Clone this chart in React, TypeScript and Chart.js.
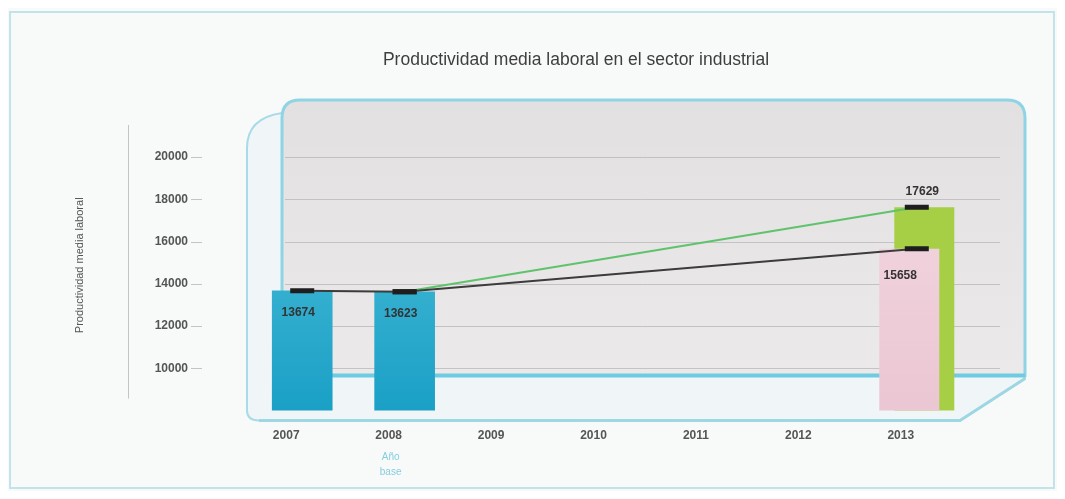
import React, { useEffect, useRef } from "react";
import { Chart, registerables } from "chart.js";

Chart.register(...registerables);

const years = ["2007", "2008", "2009", "2010", "2011", "2012", "2013"];
const baseBars = [13674, 13623, null, null, null, null, null];
const pinkBars = [null, null, null, null, null, null, 15658];
const greenBars = [null, null, null, null, null, null, 17629];
const blackLine = [13674, 13623, null, null, null, null, 15658];
const greenLine = [null, 13623, null, null, null, null, 17629];
const yTickValues = [10000, 12000, 14000, 16000, 18000, 20000];
const titleText = "Productividad media laboral en el sector industrial";
const yTitle = "Productividad media laboral";
const baseYearNote = ["Año", "base"];
const baseYearIndex = 1;

const FONT = "'Liberation Sans', Arial, sans-serif";

function vGrad(chart: any, top: string, bottom: string, fallback: string) {
  const ca = chart.chartArea;
  if (!ca) return fallback;
  const g = chart.ctx.createLinearGradient(0, ca.top, 0, ca.bottom);
  g.addColorStop(0, top);
  g.addColorStop(1, bottom);
  return g;
}

const decorPlugin = {
  id: "decor",
  beforeDraw(chart: any) {
    const { ctx, chartArea: ca, width, height } = chart;
    ctx.save();
    ctx.fillStyle = "#f8faf9";
    ctx.fillRect(0, 0, width, height);
    // outer frame
    ctx.strokeStyle = "#c3e3ea";
    ctx.lineWidth = 2;
    ctx.strokeRect(2, 4, width - 5, height - 7);

    // title
    ctx.font = `17.5px ${FONT}`;
    ctx.fillStyle = "#3e3e3e";
    ctx.textAlign = "center";
    ctx.textBaseline = "middle";
    ctx.fillText(titleText, 568, 52);

    // floor + left wall
    const L = ca.left - 4;
    const B = ca.bottom + 10;
    ctx.beginPath();
    ctx.moveTo(ca.left + 31, ca.top + 13);
    ctx.quadraticCurveTo(L, ca.top + 18, L, ca.top + 48);
    ctx.lineTo(L, B - 10);
    ctx.quadraticCurveTo(L, B, L + 12, B);
    ctx.lineTo(ca.right - 8, B);
    ctx.lineTo(ca.right + 57, ca.bottom - 32);
    ctx.lineTo(ca.right + 57, ca.top + 13);
    ctx.closePath();
    ctx.fillStyle = "#f0f6f8";
    ctx.fill();
    ctx.strokeStyle = "#a8dbe7";
    ctx.lineWidth = 2;
    ctx.stroke();
    ctx.beginPath();
    ctx.moveTo(L + 12, B);
    ctx.lineTo(ca.right - 8, B);
    ctx.lineTo(ca.right + 57, ca.bottom - 32);
    ctx.strokeStyle = "#9fd6e4";
    ctx.lineWidth = 3;
    ctx.stroke();

    // back panel
    const px = ca.left + 31, py = ca.top, pw = ca.right + 57 - px, ph = ca.bottom - 35 - ca.top;
    const r = 18;
    ctx.beginPath();
    ctx.moveTo(px + r, py);
    ctx.lineTo(px + pw - r, py);
    ctx.quadraticCurveTo(px + pw, py, px + pw, py + r);
    ctx.lineTo(px + pw, py + ph);
    ctx.lineTo(px, py + ph);
    ctx.lineTo(px, py + r);
    ctx.quadraticCurveTo(px, py, px + r, py);
    ctx.closePath();
    const g = ctx.createLinearGradient(0, py, 0, py + ph);
    g.addColorStop(0, "#e3e0e1");
    g.addColorStop(1, "#ebe9e9");
    ctx.fillStyle = g;
    ctx.fill();
    ctx.strokeStyle = "#8fd4e4";
    ctx.lineWidth = 3;
    ctx.stroke();
    ctx.beginPath();
    ctx.moveTo(px, py + ph);
    ctx.lineTo(px + pw, py + ph);
    ctx.strokeStyle = "#6fcbe1";
    ctx.lineWidth = 4;
    ctx.stroke();

    // grid lines on back panel, thin vertical line and tick dashes near y labels
    const ys = chart.scales.y;
    ctx.lineWidth = 1;
    yTickValues.forEach((v) => {
      const y = Math.round(ys.getPixelForValue(v)) + 0.5;
      if (y < py + ph - 4) {
        ctx.strokeStyle = "rgba(185,185,185,0.8)";
        ctx.beginPath();
        ctx.moveTo(px + 3, y);
        ctx.lineTo(px + pw - 25, y);
        ctx.stroke();
      }
      ctx.strokeStyle = "#c4c4c4";
      ctx.beginPath();
      ctx.moveTo(183, y);
      ctx.lineTo(194, y);
      ctx.stroke();
    });
    ctx.strokeStyle = "#c4c4c4";
    ctx.beginPath();
    ctx.moveTo(120.5, ca.top + 25);
    ctx.lineTo(120.5, ca.bottom - 12);
    ctx.stroke();

    // y axis title
    ctx.save();
    ctx.translate(72, (ca.top + ca.bottom) / 2 + 10);
    ctx.rotate(-Math.PI / 2);
    ctx.font = `11px ${FONT}`;
    ctx.fillStyle = "#555";
    ctx.textAlign = "center";
    ctx.textBaseline = "middle";
    ctx.fillText(yTitle, 0, 0);
    ctx.restore();
    ctx.restore();
  },
  afterDatasetsDraw(chart: any) {
    const { ctx } = chart;
    ctx.save();
    ctx.font = `bold 12px ${FONT}`;
    ctx.fillStyle = "#333";
    ctx.textAlign = "center";
    ctx.textBaseline = "middle";
    chart.data.datasets.forEach((ds: any, di: number) => {
      if (ds.type !== "bar") return;
      const meta = chart.getDatasetMeta(di);
      meta.data.forEach((el: any, i: number) => {
        const v = ds.data[i];
        if (v == null) return;
        ctx.fillText(String(v), el.x + ds.labelDx, el.y + ds.labelDy);
      });
    });
    // base year note
    const xs = chart.scales.x;
    const ca = chart.chartArea;
    ctx.font = `10px ${FONT}`;
    ctx.fillStyle = "#86cde0";
    const nx = xs.getPixelForValue(baseYearIndex) - 14;
    baseYearNote.forEach((t, k) => ctx.fillText(t, nx, ca.bottom + 47 + k * 15));
    ctx.restore();
  },
};

export default function App() {
  const ref = useRef<HTMLCanvasElement>(null);
  useEffect(() => {
    if (!ref.current) return;
    const chart = new Chart(ref.current, {
      type: "bar",
      data: {
        labels: years,
        datasets: [
          {
            type: "line",
            data: blackLine,
            borderColor: "#3c3c3c",
            borderWidth: 2,
            spanGaps: true,
            pointStyle: "line",
            pointRadius: 12,
            pointBorderWidth: 5,
            pointBorderColor: "#1e1e1e",
            order: 0,
          } as any,
          {
            type: "line",
            data: greenLine,
            borderColor: "#5fc36c",
            borderWidth: 2,
            spanGaps: true,
            pointStyle: "line",
            pointRadius: 12,
            pointBorderWidth: 5,
            pointBorderColor: "#1e1e1e",
            order: 0,
          } as any,
          {
            type: "bar",
            data: baseBars,
            labelDx: -4,
            labelDy: 22,
            grouped: false,
            barThickness: 60,
            order: 3,
            backgroundColor: (c: any) => vGrad(c.chart, "#5cc6de", "#1aa0c6", "#34b3d3"),
          } as any,
          {
            type: "bar",
            data: pinkBars,
            labelDx: -9,
            labelDy: 27,
            skipNull: true,
            categoryPercentage: 0.293,
            barPercentage: 4,
            order: 1,
            backgroundColor: (c: any) => vGrad(c.chart, "#f3dbe4", "#ebc6d3", "#efd0dc"),
          } as any,
          {
            type: "bar",
            data: greenBars,
            labelDx: -2,
            labelDy: -15,
            skipNull: true,
            categoryPercentage: 0.293,
            barPercentage: 4,
            order: 2,
            backgroundColor: (c: any) => {
              const ca = c.chart.chartArea;
              const el = c.element;
              if (!ca || !el || el.x == null) return "#a6cf45";
              const g = c.chart.ctx.createLinearGradient(el.x - 30, 0, el.x + 30, 0);
              g.addColorStop(0, "#c9df55");
              g.addColorStop(0.7, "#b5d64a");
              g.addColorStop(0.72, "#8dc53e");
              g.addColorStop(1, "#7fbd3a");
              return g;
            },
          } as any,
        ],
      },
      options: {
        animation: false,
        responsive: false,
        layout: { padding: { left: 60, right: 89, top: 92, bottom: 30 } },
        plugins: {
          legend: { display: false },
          tooltip: { enabled: false },
          title: { display: false },
        },
        scales: {
          x: {
            grid: { display: false, drawTicks: false },
            border: { display: false },
            ticks: {
              padding: 18,
              labelOffset: -16,
              color: "#555",
              font: { family: FONT, size: 12, weight: "bold" },
            },
          },
          y: {
            min: 8000,
            max: 22700,
            afterFit: (s: any) => {
              s.width = 183;
            },
            afterBuildTicks: (s: any) => {
              s.ticks = yTickValues.map((v) => ({ value: v }));
            },
            border: { display: false },
            grid: { display: false, drawTicks: false },
            ticks: {
              autoSkip: false,
              padding: 63,
              color: "#555",
              font: { family: FONT, size: 12, weight: "bold" },
              callback: (v: any) => String(v),
            },
          },
        },
      } as any,
      plugins: [decorPlugin],
    });
    return () => chart.destroy();
  }, []);
  return (
    <div style={{ width: 1049, height: 483 }}>
      <canvas ref={ref} width={1049} height={483} style={{ display: "block" }} />
    </div>
  );
}
